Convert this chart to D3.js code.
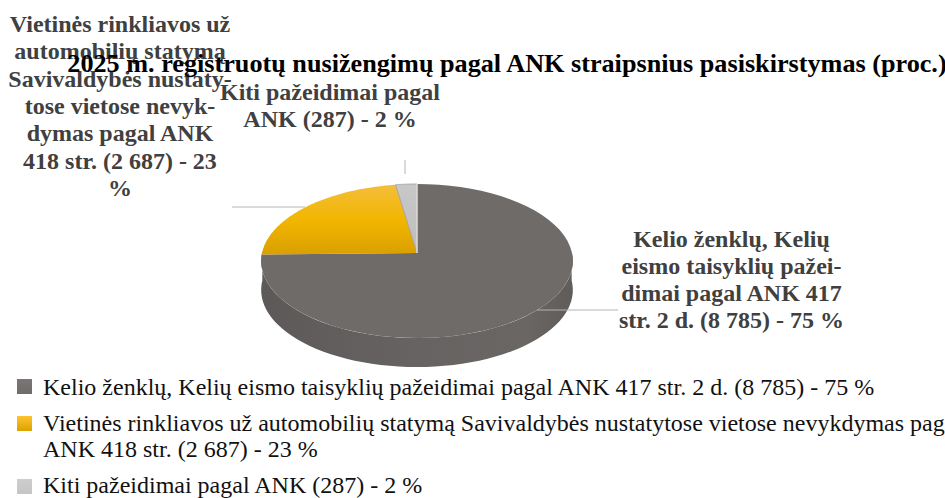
<!DOCTYPE html>
<html><head><meta charset="utf-8">
<script src="https://cdn.jsdelivr.net/npm/d3@7/dist/d3.min.js"></script>
<style>html,body{margin:0;padding:0;background:#fff;overflow:hidden}text{font-family:"Liberation Serif",serif}</style>
</head><body><svg id="c" width="945" height="498"></svg>
<script>
const titleText = "2025 m. registruotų nusižengimų pagal ANK straipsnius pasiskirstymas (proc.)";
const categories = ["Kelio ženklų, Kelių eismo taisyklių pažeidimai pagal ANK 417 str. 2 d. (8 785) - 75 %",
  "Vietinės rinkliavos už automobilių statymą Savivaldybės nustatytose vietose nevykdymas pagal ANK 418 str. (2 687) - 23 %",
  "Kiti pažeidimai pagal ANK (287) - 2 %"];
const values = [8785, 2687, 287];
const legendLines = [
  ["Kelio ženklų, Kelių eismo taisyklių pažeidimai pagal ANK 417 str. 2 d. (8 785) - 75 %"],
  ["Vietinės rinkliavos už automobilių statymą Savivaldybės nustatytose vietose nevykdymas pagal", "ANK 418 str. (2 687) - 23 %"],
  ["Kiti pažeidimai pagal ANK (287) - 2 %"]];
const labelLines = [
  ["Kelio ženklų, Kelių","eismo taisyklių pažei-","dimai pagal ANK 417","str. 2 d. (8 785) - 75 %"],
  ["Vietinės rinkliavos už","automobilių statymą","Savivaldybės nustaty-","tose vietose nevyk-","dymas pagal ANK","418 str. (2 687) - 23","%"],
  ["Kiti pažeidimai pagal","ANK (287) - 2 %"]];
const labelPos = [[731.5,246.5],[120,32],[330,100]];
const legendY = [395,431,493];
const legendBoxY = [379,416,479];
const leaders = [[537,310,618,310],[232,207,305,207],[405,160,405,174]];

const svg = d3.select("#c");
const defs = svg.append("defs");
function grad(id, stops, horiz){
  const g = defs.append("linearGradient").attr("id",id).attr("x1",0).attr("y1",0)
    .attr("x2",horiz?1:0).attr("y2",horiz?0:1);
  stops.forEach(s=>g.append("stop").attr("offset",s[0]).attr("stop-color",s[1]));
}
grad("gDark",[[0,"#6f6b69"],[1,"#6f6b69"]]);
grad("gYellow",[[0,"#f4bd3c"],[0.5,"#f2b600"],[1,"#d9a000"]]);
grad("gGray",[[0,"#c8c8c8"],[1,"#bdbdbd"]]);
grad("gSide",[[0,"#5d5958"],[0.5,"#676362"],[0.85,"#6a6664"],[1,"#605c5a"]],true);
grad("lg1",[[0,"#7a7675"],[1,"#6f6b69"]]);
grad("lg2",[[0,"#ffc42e"],[1,"#dca200"]]);
grad("lg3",[[0,"#cdcdcd"],[1,"#c6c6c6"]]);
const fills = ["url(#gDark)","url(#gYellow)","url(#gGray)"];
const legendFills = ["url(#lg1)","url(#lg2)","url(#lg3)"];

// tilted-disc projection
const cx=417, cy=253, rx=155, a=76.2, k=0.104, depth=29;
const proj=(ang,r=1,dz=0)=>{
  const x=Math.sin(ang)*r, y=-Math.cos(ang)*r, w=1-k*y;
  return [cx+rx*x/w, cy+a*y/w+dz];
};
const line=d3.line();
const arcPts=(a0,a1,dz=0)=>d3.range(0,61).map(i=>proj(a0+(a1-a0)*i/60,1,dz));

// side wall (front half of the disc)
const front=arcPts(Math.PI/2-0.02,Math.PI*1.5+0.02);
const frontLow=arcPts(Math.PI/2-0.02,Math.PI*1.5+0.02,depth).reverse();
svg.append("path").attr("d",line(front.concat(frontLow))+"Z").attr("fill","url(#gSide)");

// top faces
const arcs=d3.pie().sort(null)(values);
arcs.forEach((d,i)=>{
  svg.append("path").attr("d",line([[cx,cy]].concat(arcPts(d.startAngle,d.endAngle)))+"Z")
    .attr("fill",fills[i])
    .attr("stroke",i===2?"#9a9a9a":"none").attr("stroke-width",i===2?0.8:0);
});
svg.append("line").attr("x1",cx).attr("x2",cx).attr("y1",proj(0)[1]).attr("y2",cy)
  .attr("stroke","#ececec").attr("stroke-width",1.2);

// leaders
svg.selectAll(".ld").data(leaders).join("line").attr("class","ld")
  .attr("x1",d=>d[0]).attr("y1",d=>d[1]).attr("x2",d=>d[2]).attr("y2",d=>d[3])
  .attr("stroke","#b5b5b5").attr("stroke-width",1);

// data labels (painted first in source order, title over them)
labelLines.forEach((ls,i)=>{
  const t=svg.append("text").attr("text-anchor","middle").attr("font-size",24).attr("font-weight","bold").attr("fill","#404040");
  ls.forEach((s,j)=>t.append("tspan").attr("x",labelPos[i][0]).attr("y",labelPos[i][1]+j*27.3).text(s));
});

// title
svg.append("text").attr("x",507).attr("y",72).attr("text-anchor","middle")
  .attr("font-size",26.2).attr("font-weight","bold").attr("fill","#000").text(titleText);

// legend
categories.forEach((c,i)=>{
  svg.append("rect").attr("x",17).attr("y",legendBoxY[i]).attr("width",15).attr("height",15).attr("fill",legendFills[i]);
  const t=svg.append("text").attr("font-size",24).attr("fill","#111");
  legendLines[i].forEach((s,j)=>t.append("tspan").attr("x",43).attr("y",legendY[i]+j*26).text(s));
});
</script></body></html>
